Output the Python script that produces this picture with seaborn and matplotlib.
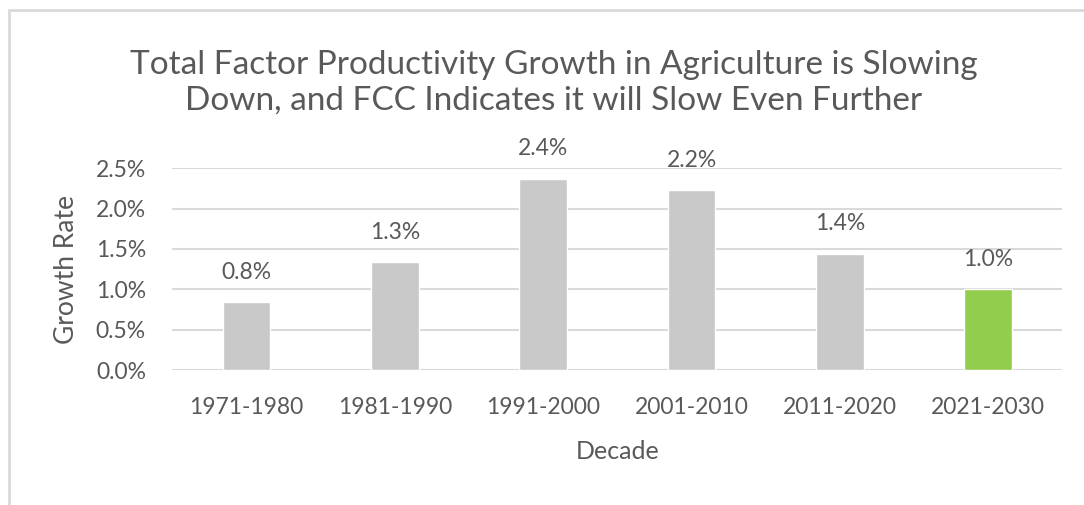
import matplotlib
matplotlib.use("Agg")
import matplotlib.pyplot as plt
import seaborn as sns
import pandas as pd
from matplotlib.patches import Rectangle

# data
decades = ["1971-1980", "1981-1990", "1991-2000", "2001-2010", "2011-2020", "2021-2030"]
growth = [0.84, 1.34, 2.37, 2.23, 1.44, 1.00]
bar_labels = ["0.8%", "1.3%", "2.4%", "2.2%", "1.4%", "1.0%"]
bar_colors = ["#c9c9c9", "#c9c9c9", "#c9c9c9", "#c9c9c9", "#c9c9c9", "#92cd4e"]
yticks = [0.0, 0.5, 1.0, 1.5, 2.0, 2.5]

df = pd.DataFrame({"Decade": decades, "Growth": growth})

sns.set_style("white")
plt.rcParams["font.family"] = ["Lato", "DejaVu Sans"]
text_col = "#595959"

fig = plt.figure(figsize=(10.84, 5.05), dpi=100)
ax = fig.add_axes([0.159, 0.267, 0.821, 0.400])

sns.barplot(data=df, x="Decade", y="Growth", hue="Decade", palette=bar_colors,
            legend=False, width=0.32, saturation=1, ax=ax, zorder=3)

for i, (v, lab) in enumerate(zip(growth, bar_labels)):
    ax.text(i, v + 0.24, lab, ha="center", va="bottom", fontsize=16.5, color=text_col)

ax.set_ylim(0, 2.5)
ax.set_xlim(-0.5, 5.5)
ax.set_yticks(yticks)
ax.set_yticklabels([f"{t:.1f}%" for t in yticks])
ax.yaxis.grid(True, color="#d9d9d9", linewidth=1.5, zorder=0)
ax.set_axisbelow(True)
for s in ax.spines.values():
    s.set_visible(False)
ax.tick_params(axis="both", length=0, labelsize=16.5, labelcolor=text_col)
ax.tick_params(axis="y", pad=19)
ax.tick_params(axis="x", pad=19)

ax.set_xlabel("Decade", fontsize=18, color=text_col, labelpad=16)
ax.set_ylabel("Growth Rate", fontsize=19, color=text_col, labelpad=12)

fig.text(0.511, 0.836, "Total Factor Productivity Growth in Agriculture is Slowing\n"
         "Down, and FCC Indicates it will Slow Even Further",
         ha="center", va="center", fontsize=24, color=text_col, linespacing=1.25)

# light frame around the chart
fig.patches.append(Rectangle((0.008, -0.05), 1.1, 1.03, transform=fig.transFigure,
                             fill=False, edgecolor="#d9d9d9", linewidth=2))

fig.savefig("out.png", dpi=100)
